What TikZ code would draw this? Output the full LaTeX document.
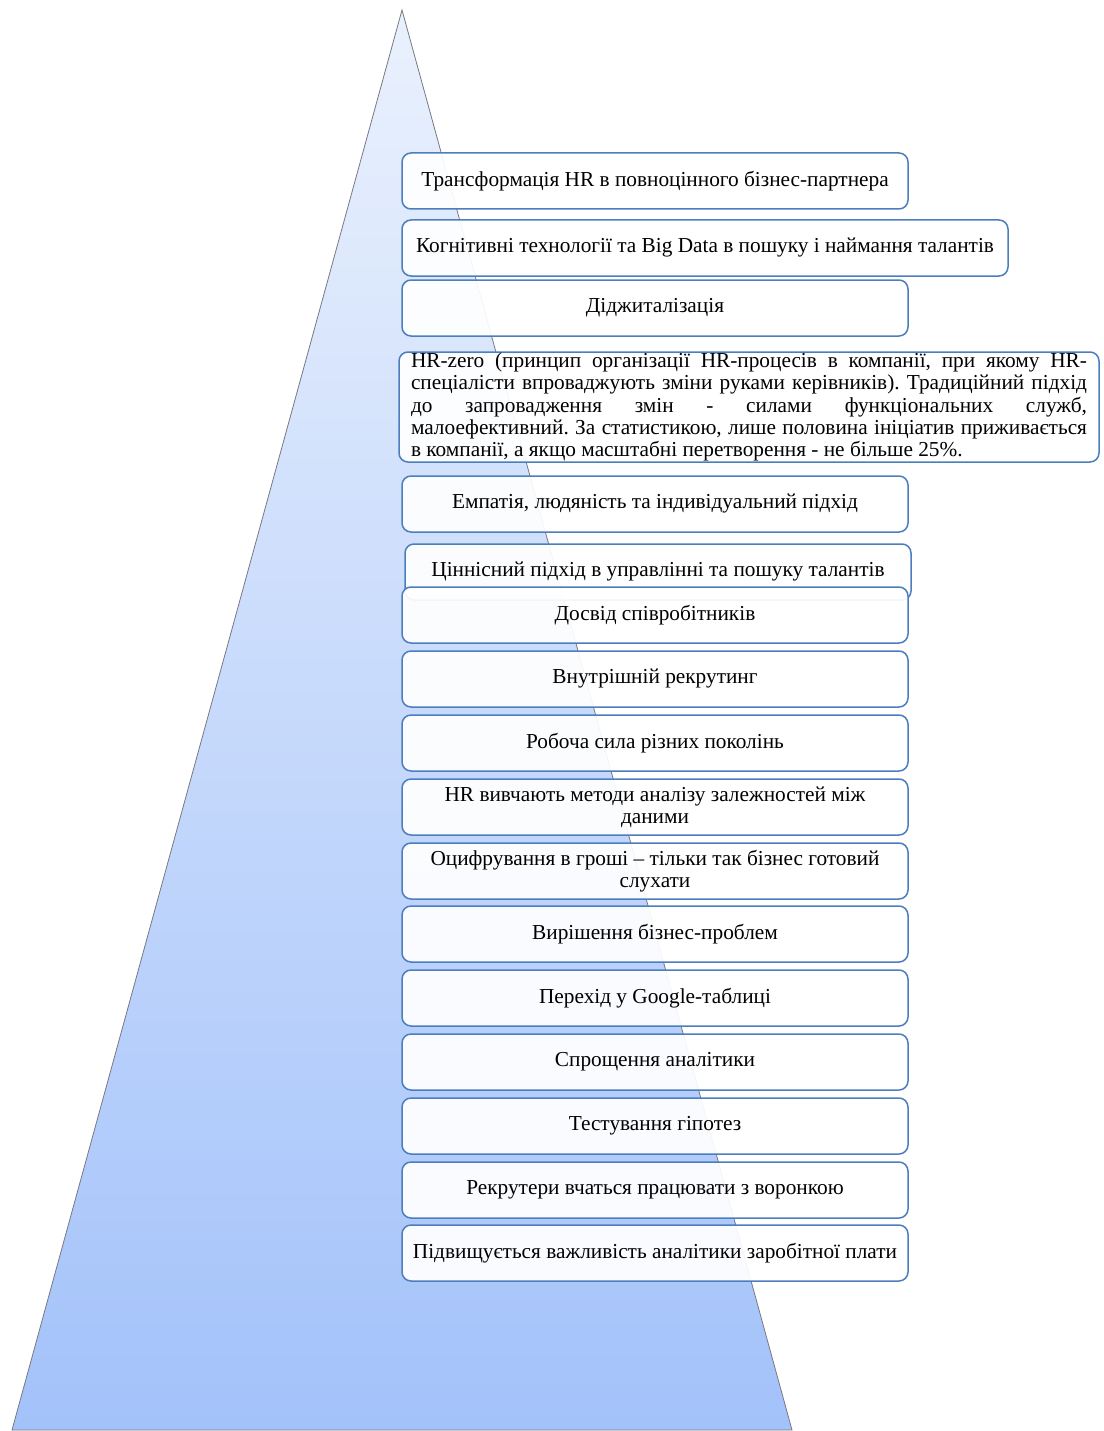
\documentclass[tikz,border=0pt]{standalone}
\usepackage{fontspec}
\setmainfont{Liberation Serif}
\frenchspacing
\begin{document}
\definecolor{pyrtop}{RGB}{234,241,253}
\definecolor{pyrbot}{RGB}{163,194,250}
\definecolor{pyredge}{RGB}{120,120,130}
\definecolor{boxedge}{RGB}{76,126,190}
\begin{tikzpicture}[x=1pt,y=-1pt,
  item/.style={draw=boxedge,line width=1.5pt,rounded corners=9pt,
    fill=white,fill opacity=0.93,text opacity=1,
    minimum height=56pt,inner sep=0pt,align=center,
    font=\fontsize{21.3}{22.3}\selectfont},
  wide/.style={item,minimum width=506pt},
  pyr/.style={top color=pyrtop,bottom color=pyrbot,draw=pyredge,line width=0.8pt}]
\useasboundingbox (0,0) rectangle (1103,1431);

% pyramid background
\path[pyr] (402,10) coordinate (apex) -- (12,1430) coordinate (bl) -- (792,1430) coordinate (br) -- cycle;

% tiers, top to bottom
\node[wide] (t1) at (655,181) {Трансформація HR в повноцінного бізнес-партнера};
\node[item,minimum width=606pt] (t2) at (705,248) {Когнітивні технології та Big Data в пошуку і наймання талантів};
\node[wide] (t3) at (655,308) {Діджиталізація};
\node[item,minimum width=700pt,minimum height=110pt,align=left] (t4) at (749,407)
  {\makebox[676pt][s]{HR-zero (принцип організації HR-процесів в компанії, при якому HR-}\\
   \makebox[676pt][s]{спеціалісти впроваджують зміни руками керівників). Традиційний підхід}\\
   \makebox[676pt][s]{до запровадження змін - силами функціональних служб,}\\
   \makebox[676pt][s]{малоефективний. За статистикою, лише половина ініціатив приживається}\\
   в компанії, а якщо масштабні перетворення - не більше 25\%.};
\node[wide] (t5) at (655,504) {Емпатія, людяність та індивідуальний підхід};
\node[wide] (t6) at (658,572) {Ціннісний підхід в управлінні та пошуку талантів};
\node[wide] (t7) at (655,615) {Досвід співробітників};
\node[wide] (t8) at (655,679) {Внутрішній рекрутинг};
\node[wide] (t9) at (655,743) {Робоча сила різних поколінь};
\node[wide] (t10) at (655,807) {HR вивчають методи аналізу залежностей між\\даними};
\node[wide] (t11) at (655,871) {Оцифрування в гроші – тільки так бізнес готовий\\слухати};
\node[wide] (t12) at (655,934) {Вирішення бізнес-проблем};
\node[wide] (t13) at (655,998) {Перехід у Google-таблиці};
\node[wide] (t14) at (655,1062) {Спрощення аналітики};
\node[wide] (t15) at (655,1126) {Тестування гіпотез};
\node[wide] (t16) at (655,1190) {Рекрутери вчаться працювати з воронкою};
\node[wide] (t17) at (655,1253) {Підвищується важливість аналітики заробітної плати};
\end{tikzpicture}
\end{document}
